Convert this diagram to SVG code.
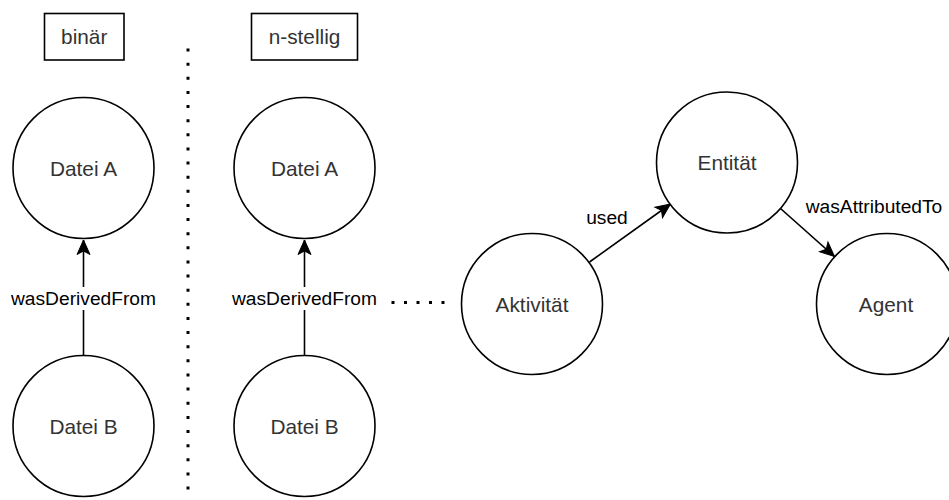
<svg xmlns="http://www.w3.org/2000/svg" width="949" height="500" viewBox="0 0 949 500">
  <style>
    .node circle { fill: #ffffff; stroke: #000000; stroke-width: 1.6; }
    .box rect { fill: #ffffff; stroke: #000000; stroke-width: 1.6; }
    .label { font-family: "Liberation Sans", Arial, sans-serif; font-size: 20.8px; fill: #333333; text-anchor: middle; }
    .edge { stroke: #000000; stroke-width: 1.6; fill: none; }
    .edge-label { font-family: "Liberation Sans", Arial, sans-serif; font-size: 19.2px; fill: #000000; text-anchor: middle; }
    .dots { stroke: #000000; stroke-width: 3; fill: none; }
  </style>
  <defs>
    <marker id="arrow" markerUnits="userSpaceOnUse" markerWidth="18" markerHeight="16" viewBox="-16 -8 18 16" refX="0" refY="0" orient="auto">
      <path d="M0,0 L-14.5,-6.5 L-11,0 L-14.5,6.5 Z" fill="#000000" stroke="#000000" stroke-width="1"/>
    </marker>
  </defs>
  <rect width="949" height="500" fill="#ffffff"/>

  <!-- section headers -->
  <g id="header-binaer" class="box">
    <rect x="44.5" y="13.5" width="79.5" height="46.5"/>
    <text class="label" x="84.2" y="43.6">binär</text>
  </g>
  <g id="header-nstellig" class="box">
    <rect x="251.5" y="13.5" width="106" height="46.5"/>
    <text class="label" x="304.5" y="43.6">n-stellig</text>
  </g>

  <!-- separator between the two variants -->
  <g id="separators">
    <line class="dots" x1="188" y1="48.5" x2="188" y2="491" stroke-dasharray="3 11.13"/>
  </g>

  <!-- connectors -->
  <g id="connectors">
    <line class="edge" x1="83.5" y1="355" x2="83.5" y2="240" marker-end="url(#arrow)"/>
    <rect x="8" y="287" width="152" height="23" fill="#ffffff"/>
    <text class="edge-label" x="83.5" y="305">wasDerivedFrom</text>

    <line class="edge" x1="304.5" y1="355" x2="304.5" y2="240" marker-end="url(#arrow)"/>
    <rect x="229" y="287" width="152" height="23" fill="#ffffff"/>
    <text class="edge-label" x="304.5" y="305">wasDerivedFrom</text>

    <line class="dots" x1="391.5" y1="302.5" x2="445" y2="302.5" stroke-dasharray="3 9.5"/>

    <line class="edge" x1="589.5" y1="262" x2="670.5" y2="204" marker-end="url(#arrow)"/>
    <text class="edge-label" x="607" y="224">used</text>

    <line class="edge" x1="780.5" y1="208.5" x2="834.5" y2="256.5" marker-end="url(#arrow)"/>
    <text class="edge-label" x="874" y="213">wasAttributedTo</text>
  </g>

  <!-- binary variant -->
  <g id="binaer-datei-a" class="node">
    <circle cx="83.5" cy="168" r="70.5"/>
    <text class="label" x="83.5" y="176">Datei A</text>
  </g>
  <g id="binaer-datei-b" class="node">
    <circle cx="83.5" cy="426" r="70.5"/>
    <text class="label" x="83.5" y="434">Datei B</text>
  </g>

  <!-- n-ary variant -->
  <g id="nstellig-datei-a" class="node">
    <circle cx="304.5" cy="168" r="70.5"/>
    <text class="label" x="304.5" y="176">Datei A</text>
  </g>
  <g id="nstellig-datei-b" class="node">
    <circle cx="304.5" cy="426" r="70.5"/>
    <text class="label" x="304.5" y="434">Datei B</text>
  </g>
  <g id="aktivitaet" class="node">
    <circle cx="532" cy="304" r="70.5"/>
    <text class="label" x="532" y="311.5">Aktivität</text>
  </g>
  <g id="entitaet" class="node">
    <circle cx="727" cy="162.5" r="70.5"/>
    <text class="label" x="727" y="169.5">Entität</text>
  </g>
  <g id="agent" class="node">
    <circle cx="887" cy="304" r="70.5"/>
    <text class="label" x="886" y="311.5">Agent</text>
  </g>
</svg>
